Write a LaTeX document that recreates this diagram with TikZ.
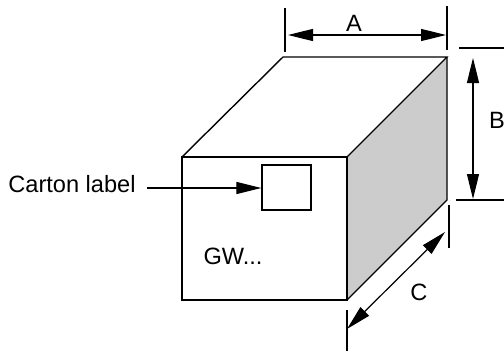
\documentclass[tikz,border=0pt]{standalone}
\usepackage{fontspec}
\setmainfont{Liberation Sans}
\usetikzlibrary{arrows.meta}
\usetikzlibrary{positioning}

\begin{document}
\begin{tikzpicture}[x=1pt, y=-1pt, line width=1.4pt,
    >={Triangle[length=25pt, width=12pt]},
    every node/.style={font=\fontsize{23.6}{28}\selectfont},
    dimline/.style={line width=1.2pt},
    tickline/.style={line width=1.3pt}]
 \useasboundingbox (0,0) rectangle (504,351);
 % carton corners
 \coordinate (ftl) at (182,157);
 \coordinate (ftr) at (347,157);
 \coordinate (fbr) at (347,300);
 \coordinate (fbl) at (182,300);
 \coordinate (btl) at (283,57);
 \coordinate (btr) at (447,57);
 \coordinate (bbr) at (447,200);
 \fill[black!20] (ftr) -- (btr) -- (bbr) -- (fbr) -- cycle;
 \draw (ftl) -- (ftr) -- (fbr) -- (fbl) -- cycle;
 \draw (ftl) -- (btl) -- (btr) -- (ftr);
 \draw (btr) -- (bbr) -- (fbr);
 % label on the front
 \node[draw, line width=1.3pt, minimum width=49pt, minimum height=45pt, inner sep=0pt]
    (labelbox) at (286.5,187.5) {};
 \node (cartontext) at (72,184) {Carton label};
 \coordinate (labelstart) at (147,188);
 \draw[dimline, ->] (labelstart) -- (labelstart -| labelbox.west);
 \node (gwtext) at (233,256) {GW...};
 % A
 \coordinate (a1) at (285,8);  \coordinate (a2) at (285,52);
 \coordinate (a3) at (447,6);  \coordinate (a4) at (447,50);
 \coordinate (aleft) at (288,35); \coordinate (aright) at (446,35);
 \draw[tickline] (a1) -- (a2);
 \draw[tickline] (a3) -- (a4);
 \draw[dimline, <->] (aleft) -- (aright);
 \node (atext) at (354,23) {A};
 % B
 \coordinate (b1) at (459,48);  \coordinate (b2) at (504,48);
 \coordinate (b3) at (456,200); \coordinate (b4) at (504,200);
 \coordinate (btop) at (473,58); \coordinate (bbot) at (473,199);
 \draw[tickline] (b1) -- (b2);
 \draw[tickline] (b3) -- (b4);
 \draw[dimline, <->] (btop) -- (bbot);
 \node (btext) at (497,120) {B};
 % C
 \coordinate (c1) at (449,205); \coordinate (c2) at (449,248);
 \coordinate (c3) at (347,310); \coordinate (c4) at (347,351);
 \coordinate (cup) at (445,232); \coordinate (cdown) at (347,329);
 \draw[tickline] (c1) -- (c2);
 \draw[tickline] (c3) -- (c4);
 \draw[dimline, <->] (cup) -- (cdown);
 \node (ctext) at (419,292) {C};
\end{tikzpicture}
\end{document}
